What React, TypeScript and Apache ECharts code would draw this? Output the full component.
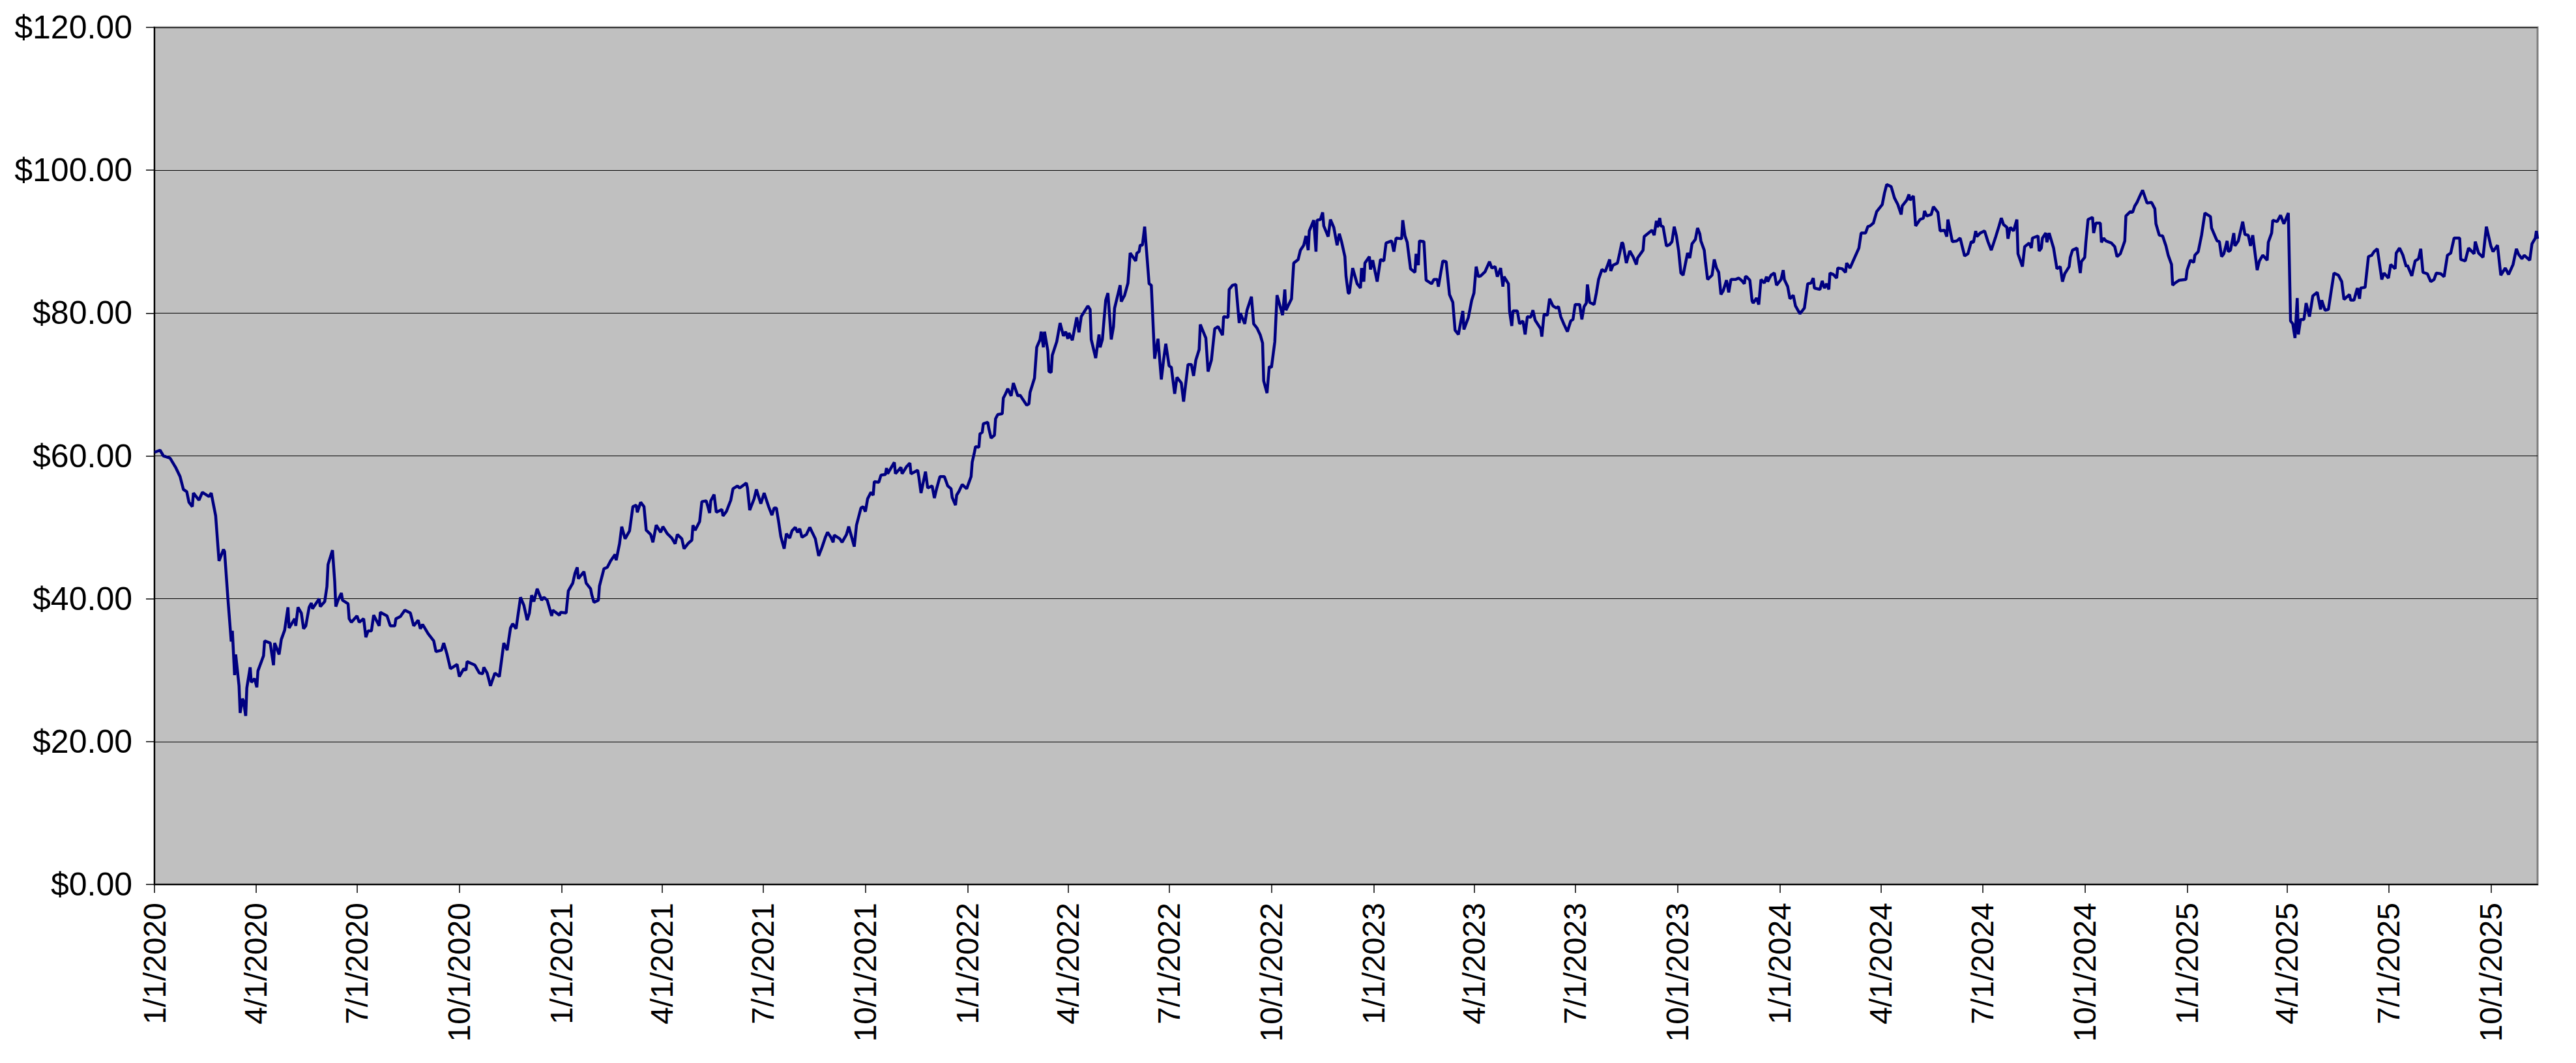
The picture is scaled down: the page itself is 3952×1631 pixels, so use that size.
import React, { useEffect, useRef } from "react";
import * as echarts from "echarts";

// Days since 1/1/2020 for each reading, and the price at that day
const dayOffsets: number[] = [
  0, 5, 8, 14, 19, 23, 26, 29, 31, 34, 35, 40, 43, 49, 51, 55, 58, 62, 63, 66, 69, 70, 72, 73, 76, 77, 79, 80, 82, 83,
  86, 87, 90, 92, 93, 98, 99, 104, 107, 108, 112, 114, 117, 120, 121, 126, 127, 129, 132, 134, 136, 139, 141, 142, 148,
  149, 153, 155, 156, 160, 162, 163, 165, 168, 169, 174, 175, 177, 182, 184, 188, 190, 192, 195, 197, 202, 203, 209,
  212, 216, 217, 221, 225, 230, 233, 237, 239, 241, 246, 251, 253, 258, 260, 263, 266, 272, 274, 278, 280, 281, 288,
  292, 295, 296, 299, 302, 306, 310, 314, 317, 320, 322, 325, 329, 332, 335, 337, 339, 341, 344, 348, 350,
  353, 357, 358, 364, 365, 370, 372, 376, 378, 380, 381, 386, 388, 392, 393, 395, 399, 400, 404, 407, 410, 414, 415,
  418, 420, 423, 427, 430, 433, 434, 437, 440, 442, 446, 448, 451, 455, 457, 461, 465, 468, 470, 474, 476, 480, 483,
  484, 486, 490, 492, 496, 499, 500, 503, 505, 510, 511, 514, 518, 520, 524, 526, 532, 533, 535, 539, 541, 545, 548,
  552, 555, 557, 559, 561, 563, 566, 568, 571, 573, 576, 578, 580, 582, 586, 589, 594, 597, 600, 603, 605, 608, 610,
  611, 616, 618, 622, 624, 626, 629, 631, 635, 637, 639, 641, 644, 646, 647, 651, 653, 657, 658, 659, 665, 666, 671,
  672, 676, 679, 680, 686, 687, 689, 693, 695, 699, 701, 703, 706, 710,
  713, 716, 717, 720, 721, 723, 726, 730, 734, 735, 737, 738, 741, 742, 744, 745, 749, 750, 752, 755, 756, 758, 762,
  763, 765, 767, 770, 772, 776, 778, 784, 786, 787, 791, 793, 796, 797, 799, 800, 803, 804, 806, 807, 811, 814, 817,
  819, 821, 822, 825, 829, 831, 833, 839, 841, 842, 846, 849, 850, 852, 855, 857, 860, 862, 863, 868, 869, 872, 875,
  877, 882, 883, 885, 886, 888, 890, 894, 896, 899, 902, 905, 907, 909, 912, 914, 917, 919, 923, 925, 929, 932, 934,
  936, 939, 940, 945, 947, 950, 953, 956, 960, 961, 965, 966, 969, 972, 975, 976, 980, 982, 986, 988, 991, 994, 996,
  997, 1000, 1002, 1004, 1007, 1009, 1014, 1016, 1017, 1022, 1024, 1028, 1030, 1033, 1035, 1037, 1038, 1042, 1044,
  1045, 1048, 1050, 1051, 1055, 1057, 1060, 1063, 1065, 1067, 1070, 1071, 1073,
  1074, 1077, 1081, 1084, 1085, 1087, 1088, 1092, 1093, 1095, 1099, 1102, 1105, 1107, 1112, 1114, 1116, 1121, 1122,
  1124, 1126, 1129, 1133, 1134, 1136, 1137, 1141, 1143, 1148, 1150, 1153, 1154, 1158, 1161, 1164, 1167, 1169, 1172,
  1176, 1177, 1181, 1184, 1186, 1188, 1190, 1192, 1196, 1200, 1202, 1205, 1207, 1210, 1212, 1213, 1217, 1218, 1220,
  1221, 1225, 1227, 1230, 1232, 1234, 1237, 1239, 1241, 1246, 1247, 1249, 1252, 1254, 1257, 1260, 1262, 1264, 1267,
  1270, 1273, 1275, 1277, 1281, 1283, 1285, 1287, 1288, 1290, 1294, 1296, 1298, 1301, 1304, 1308, 1309, 1311, 1315,
  1317, 1319, 1320, 1323, 1326, 1329, 1332, 1333, 1338, 1339, 1346, 1348, 1350, 1351, 1353, 1354, 1356, 1359, 1362,
  1364, 1366, 1368, 1370, 1372, 1374, 1378, 1380, 1382, 1385, 1387, 1389, 1390, 1393, 1394, 1396, 1400, 1402, 1404,
  1406, 1408, 1410, 1413, 1415, 1417, 1421, 1424, 1427, 1429, 1430,
  1431, 1434, 1436, 1437, 1440, 1442, 1444, 1447, 1449, 1450, 1453, 1456, 1458, 1462, 1464, 1465, 1468, 1470, 1473,
  1475, 1479, 1483, 1486, 1489, 1491, 1492, 1497, 1499, 1501, 1503, 1505, 1506, 1509, 1512, 1513, 1517, 1520, 1521,
  1524, 1528, 1532, 1534, 1538, 1540, 1542, 1545, 1548, 1553, 1555, 1557, 1561, 1564, 1567, 1570, 1571, 1575, 1577,
  1578, 1581, 1583, 1587, 1590, 1591, 1593, 1597, 1599, 1603, 1605, 1609, 1611, 1612, 1616, 1620, 1623, 1627, 1630,
  1633, 1635, 1637, 1638, 1641, 1645, 1648, 1651, 1655, 1658, 1660, 1662, 1665, 1666, 1668, 1671, 1674, 1675, 1679,
  1681, 1685, 1687, 1688, 1693, 1694, 1696, 1697, 1700, 1701, 1703, 1707, 1710, 1713, 1715, 1717, 1721, 1722, 1724,
  1728, 1731, 1732, 1735, 1736, 1738, 1742, 1743, 1745, 1749, 1750, 1752, 1754, 1759, 1762, 1764, 1767, 1771, 1772,
  1776, 1778, 1780, 1782, 1784, 1787,
  1791, 1795, 1798, 1799, 1802, 1805, 1808, 1810, 1813, 1814, 1816, 1820, 1826, 1827, 1830, 1833, 1834, 1837, 1840,
  1843, 1848, 1849, 1852, 1854, 1856, 1858, 1860, 1863, 1864, 1866, 1869, 1870, 1873, 1877, 1879, 1882, 1884, 1886,
  1890, 1892, 1895, 1899, 1900, 1903, 1904, 1908, 1911, 1914, 1918, 1920, 1922, 1924, 1926, 1927, 1929, 1932, 1934,
  1937, 1940, 1944, 1947, 1948, 1951, 1954, 1959, 1963, 1966, 1968, 1973, 1974, 1977, 1980, 1982, 1983, 1987, 1990,
  1993, 1995, 1998, 2002, 2004, 2008, 2010, 2014, 2015, 2018, 2021, 2024, 2025, 2029, 2032, 2035, 2037, 2039, 2043,
  2046, 2049, 2051, 2055, 2058, 2061, 2064, 2067, 2072, 2073, 2077, 2080, 2085, 2086, 2089, 2093, 2096, 2100, 2102,
  2106, 2109, 2113, 2116, 2120, 2123, 2125, 2128, 2130, 2135, 2137, 2140, 2141, 2142,
];

const prices: number[] = [
  60.5, 60.8, 60.0, 59.7, 58.4, 57.1, 55.3, 55.0, 53.5, 52.9, 54.8, 53.8, 54.9, 54.3, 54.8, 51.6, 45.3, 46.9, 46.6,
  40.0, 34.0, 35.5, 29.3, 32.2, 27.8, 24.0, 26.0, 25.7, 23.6, 27.5, 30.4, 28.3, 28.8, 27.6, 29.9, 32.0, 34.1, 33.8,
  30.7, 33.8, 32.2, 34.3, 35.6, 38.8, 35.9, 37.2, 36.2, 38.8, 38.0, 35.8, 36.2, 38.8, 39.4, 38.6, 40.0, 38.9, 39.6,
  41.7, 44.8, 46.8, 42.4, 38.9, 39.8, 40.8, 39.8, 39.3, 37.2, 36.7, 37.6, 36.7, 37.2, 34.6, 35.5, 35.5, 37.7, 36.2,
  38.1, 37.6, 36.2, 36.2, 37.2, 37.5, 38.4, 38.0, 36.2, 37.0, 35.8, 36.4, 35.1, 34.1, 32.6, 32.8, 33.8, 32.2, 30.2,
  30.8, 29.1, 30.2, 30.0, 31.2, 30.7, 29.6, 29.5, 30.4, 29.6, 27.8, 29.6, 29.1, 33.8, 32.8, 35.9, 36.5, 35.8, 40.2,
  39.1, 37.0, 38.0, 40.5, 39.6, 41.4, 39.8, 40.2,
  39.8, 37.6, 38.4, 37.7, 38.1, 38.0, 41.1, 42.2, 43.6, 44.4, 42.8, 43.8, 42.2, 41.4, 40.6, 39.5, 39.8, 41.8, 44.2,
  44.4, 45.3, 46.2, 45.4, 47.7, 50.1, 48.4, 49.5, 52.9, 53.1, 52.1, 53.5, 52.9, 49.6, 49.0, 47.9, 50.3, 49.3, 50.1,
  49.1, 48.5, 47.7, 49.0, 48.4, 47.0, 47.8, 48.2, 50.3, 49.6, 50.8, 53.6, 53.7, 52.0, 53.7, 54.6, 52.1, 52.5, 51.6,
  52.2, 53.8, 55.4, 55.8, 55.5, 56.2, 55.5, 52.4, 54.0, 55.3, 53.3, 54.8, 52.9, 51.7, 52.7, 52.7, 50.8, 48.7, 47.0,
  49.1, 48.5, 49.5, 50.0, 49.3, 49.8, 48.6, 49.0, 50.0, 48.4, 46.0, 47.2, 48.6, 49.3, 48.6, 47.9, 48.9, 48.4, 47.9,
  49.0, 50.1, 49.0, 47.3, 50.3, 52.7, 52.9, 52.2, 54.0, 54.9, 54.5, 56.4, 56.3, 57.3, 57.4, 58.3, 57.5, 59.1, 57.5,
  58.4, 57.5, 58.5, 59.0, 57.5, 58.0, 57.1, 54.8, 57.8, 55.5, 55.8, 54.1, 55.4, 57.1, 57.1,
  55.8, 55.4, 54.2, 53.1, 54.5, 55.0, 56.0, 55.4, 57.1, 59.1, 60.5, 61.3, 61.2, 63.1, 63.3, 64.5, 64.7, 63.8, 62.5,
  62.9, 65.2, 65.8, 65.9, 68.1, 68.7, 69.4, 68.4, 70.2, 68.4, 68.5, 67.1, 67.3, 68.9, 70.9, 75.2, 76.3, 77.4, 75.2,
  77.4, 74.7, 71.8, 71.7, 74.1, 76.0, 78.6, 76.8, 77.4, 76.4, 77.2, 76.2, 79.4, 77.3, 79.5, 81.0, 80.5, 76.3, 73.7,
  77.0, 75.2, 76.3, 81.8, 82.8, 76.3, 78.1, 80.7, 83.9, 81.6, 82.5, 84.2, 88.4, 87.3, 88.4, 88.6, 89.5, 89.5, 92.1,
  84.1, 83.9, 73.6, 76.4, 70.7, 73.4, 75.7, 72.6, 72.4, 68.7, 71.0, 70.2, 67.6, 72.8, 72.8, 71.2, 73.4, 74.9, 78.4,
  76.5, 71.8, 73.4, 77.8, 78.1, 76.9, 79.5, 79.4, 83.3, 83.9, 84.0, 78.6, 80.0, 78.5, 80.4, 82.3, 78.5, 77.9, 76.9,
  75.8, 70.5, 68.8, 72.5, 72.4, 76.0, 82.5, 79.7, 83.3, 80.4, 82.0, 87.0, 87.5, 88.8, 89.5, 90.8, 88.8, 91.5, 93.0,
  88.6, 93.0, 93.1, 94.1, 92.2, 90.7, 93.1, 92.0, 89.5, 91.1, 90.0, 87.9, 85.2, 82.8,
  82.8, 86.3, 84.1, 83.5, 86.3, 84.4, 87.0, 87.9, 86.1, 87.4, 84.4, 87.5, 87.3, 89.8, 90.1, 88.6, 90.5, 90.4, 93.0,
  90.8, 89.9, 86.2, 85.7, 88.3, 86.7, 90.1, 90.0, 84.6, 84.1, 84.7, 84.7, 83.7, 87.3, 87.2, 82.6, 81.5, 77.6, 77.0,
  80.3, 77.7, 79.4, 81.8, 82.8, 86.5, 85.1, 85.2, 85.8, 87.2, 86.3, 86.5, 85.1, 86.3, 83.7, 85.1, 84.1, 80.3, 78.2,
  80.3, 80.3, 78.5, 78.9, 77.0, 79.5, 79.4, 80.4, 79.0, 77.8, 76.7, 79.8, 79.7, 82.0, 81.0, 80.7, 80.9, 79.5, 78.4,
  77.4, 78.9, 79.1, 81.2, 81.2, 79.1, 80.9, 81.4, 84.0, 81.5, 81.2, 82.8, 84.7, 86.1, 85.8, 87.5, 85.9, 86.7, 87.0,
  88.4, 89.9, 89.7, 87.0, 88.7, 87.9, 86.8, 87.7, 88.8, 90.7, 91.6, 90.9, 92.9, 92.0, 93.3, 92.2, 92.1, 89.4, 89.6,
  90.0, 92.1, 90.8, 88.7, 85.6, 85.3, 88.4, 87.7, 89.7, 90.3, 91.9, 91.1, 90.1, 88.8, 87.3, 84.7, 85.3, 87.5, 86.3,
  85.7, 82.6, 83.1, 84.6, 82.9, 84.7, 84.7, 84.9, 84.5, 84.1, 85.1,
  85.1, 84.6, 81.7, 81.4, 82.1, 81.2, 84.7, 84.2, 85.1, 84.4, 85.3, 85.6, 83.9, 84.7, 86.0, 84.7, 83.7, 82.0, 82.5,
  81.0, 79.9, 80.7, 84.1, 84.2, 84.9, 83.5, 83.3, 84.5, 83.5, 84.1, 83.3, 85.6, 85.4, 84.9, 86.3, 86.2, 85.7, 87.0,
  86.3, 87.7, 89.1, 91.2, 91.2, 92.1, 92.2, 92.6, 94.2, 95.2, 96.8, 98.0, 97.7, 96.1, 95.2, 93.8, 95.0, 95.8, 96.6,
  95.8, 96.4, 92.2, 93.1, 93.3, 94.3, 93.6, 93.8, 94.9, 94.1, 91.5, 91.6, 90.7, 93.1, 90.0, 90.1, 90.5, 88.0, 88.3,
  90.0, 89.9, 91.5, 90.7, 91.2, 91.5, 90.0, 88.8, 90.7, 92.2, 93.3, 92.4, 92.0, 90.4, 92.0, 91.5, 93.1, 88.3, 86.5,
  89.3, 89.8, 89.1, 90.5, 90.8, 88.7, 89.1, 90.5, 91.2, 89.9, 91.2, 89.1, 86.2, 86.5, 84.4, 85.5, 86.5, 87.8, 88.8,
  89.1, 85.6, 87.2, 87.8, 89.9, 93.1, 93.4, 91.2, 92.6, 92.6, 89.9, 90.5, 90.1, 89.8, 89.3, 87.9, 88.3, 90.1, 93.6,
  94.2, 94.1, 95.0, 95.5, 96.2, 97.2,
  95.4, 95.5, 94.6, 92.5, 90.9, 90.8, 89.4, 88.1, 86.8, 83.9, 84.2, 84.6, 84.7, 86.0, 87.4, 87.1, 88.1, 88.6, 90.9,
  94.0, 93.5, 91.9, 90.8, 90.1, 90.0, 87.9, 88.3, 90.1, 88.6, 88.8, 91.2, 89.4, 90.1, 92.8, 91.0, 90.9, 89.4, 90.9,
  86.0, 87.3, 88.1, 87.4, 89.9, 91.2, 93.0, 92.8, 93.7, 92.5, 94.0, 78.9, 78.5, 76.5, 82.1, 77.0, 79.1, 79.1, 81.4,
  79.5, 82.4, 82.9, 80.5, 81.8, 80.4, 80.5, 85.6, 85.3, 84.4, 81.9, 82.6, 81.8, 81.8, 83.5, 82.0, 83.5, 83.6, 87.9,
  88.1, 88.6, 89.0, 84.7, 85.6, 84.9, 86.8, 86.2, 88.4, 89.1, 88.1, 86.5, 86.7, 85.2, 87.3, 87.6, 89.0, 85.7, 85.5,
  84.4, 84.7, 85.6, 85.5, 85.1, 88.1, 88.4, 90.5, 90.5, 87.5, 87.3, 89.1, 88.3, 90.0, 88.4, 87.8, 92.1, 89.4, 88.6,
  89.5, 85.3, 86.3, 85.4, 86.8, 89.0, 88.2, 87.6, 88.1, 87.4, 89.7, 90.5, 91.5, 90.4,
];

// Quarter-start tick dates shown on the x axis
const tickYears: number[] = [2020, 2021, 2022, 2023, 2024, 2025];
const tickMonths: number[] = [0, 3, 6, 9]; // Jan, Apr, Jul, Oct
const lastTick = { year: 2025, month: 9 };
const yTicks = { min: 0, max: 120, step: 20 };
const endDay = 2142;

const dayToTime = (d: number) => new Date(2020, 0, 1 + d).getTime();

export default function App() {
  const ref = useRef<HTMLDivElement>(null);

  useEffect(() => {
    if (!ref.current) return;
    const chart = echarts.init(ref.current, null, { renderer: "svg" });

    const tickValues: number[] = [];
    tickYears.forEach((y) =>
      tickMonths.forEach((m) => {
        if (y < lastTick.year || m <= lastTick.month) tickValues.push(new Date(y, m, 1).getTime());
      })
    );

    const data = dayOffsets.map((d, i) => [dayToTime(d), prices[i]]);

    chart.setOption({
      animation: false,
      backgroundColor: "#ffffff",
      grid: {
        left: 237,
        right: 59,
        top: 42,
        bottom: 274,
        show: true,
        backgroundColor: "#C0C0C0",
        borderColor: "#808080",
        borderWidth: 3,
      },
      xAxis: {
        type: "value",
        min: dayToTime(0),
        max: dayToTime(endDay),
        axisLine: { show: true, lineStyle: { color: "#000000", width: 2 } },
        axisTick: {
          show: true,
          customValues: tickValues,
          length: 13,
          lineStyle: { color: "#000000", width: 1.5 },
        },
        axisLabel: {
          customValues: tickValues,
          rotate: 90,
          margin: 28,
          fontSize: 48,
          fontFamily: "Liberation Sans, Arial, sans-serif",
          color: "#000000",
          formatter: (v: number) => {
            const dt = new Date(v);
            return `${dt.getMonth() + 1}/${dt.getDate()}/${dt.getFullYear()}`;
          },
        },
        splitLine: { show: false },
      },
      yAxis: {
        type: "value",
        min: yTicks.min,
        max: yTicks.max,
        interval: yTicks.step,
        axisLine: { show: true, lineStyle: { color: "#000000", width: 2 } },
        axisTick: { show: true, length: 13, lineStyle: { color: "#000000", width: 1.5 } },
        axisLabel: {
          margin: 34,
          fontSize: 50,
          fontFamily: "Liberation Sans, Arial, sans-serif",
          color: "#000000",
          formatter: (v: number) => `$${v.toFixed(2)}`,
        },
        splitLine: { show: true, lineStyle: { color: "#000000", width: 1 } },
      },
      series: [
        {
          type: "line",
          data,
          showSymbol: false,
          symbol: "none",
          lineStyle: { color: "#000080", width: 4.5 },
          clip: true,
        },
      ],
    });

    return () => chart.dispose();
  }, []);

  return (
    <div
      ref={ref}
      style={{ position: "fixed", left: 0, top: 0, width: 3952, height: 1631 }}
    />
  );
}
